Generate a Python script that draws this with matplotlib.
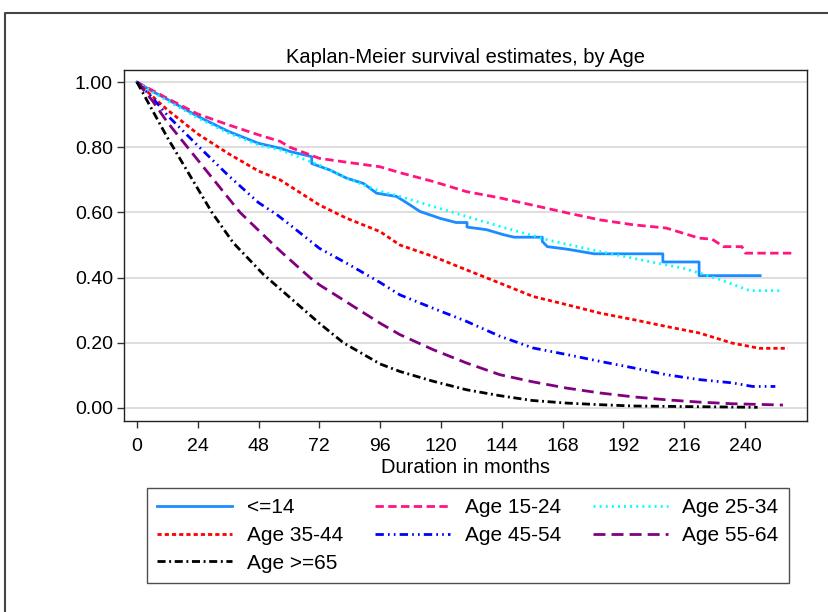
#! /usr/bin/env python

import matplotlib
matplotlib.use("Agg")
import matplotlib.pyplot as plt
from matplotlib.lines import Line2D

plt.rcParams['font.family'] = ['Liberation Sans', 'DejaVu Sans']

# Kaplan-Meier estimates, months -> survival
t_14 = [0, 6, 12, 24, 36, 48, 56.5, 60.4, 69, 69, 76.2, 82.8, 89.4, 94.6, 102.5,
        107.8, 111.7, 119.6, 126, 130.3, 130.3, 138, 145, 148.9, 160, 160, 162,
        170, 180.5, 207.6, 207.6, 221.9, 221.9, 246]
s_14 = [1.0, 0.972, 0.947, 0.895, 0.849, 0.812, 0.797, 0.787, 0.771, 0.75, 0.73,
        0.705, 0.689, 0.659, 0.649, 0.623, 0.603, 0.582, 0.569, 0.569, 0.555,
        0.547, 0.531, 0.524, 0.524, 0.511, 0.495, 0.487, 0.473, 0.473, 0.448,
        0.448, 0.406, 0.406]

t_15 = [0, 6, 12, 24, 36, 48, 56.5, 60.4, 72, 82.8, 96, 103.8, 116.9, 130, 143,
        156.4, 169.6, 182.8, 196, 209, 222, 227, 231.6, 238.8, 240.2, 258.3]
s_15 = [1.0, 0.975, 0.95, 0.902, 0.869, 0.838, 0.818, 0.80, 0.766, 0.754, 0.74,
        0.722, 0.695, 0.664, 0.645, 0.622, 0.599, 0.577, 0.562, 0.552, 0.521,
        0.518, 0.495, 0.495, 0.475, 0.475]

t_25 = [0, 6, 12, 24, 36, 48, 56.5, 72, 82.8, 96, 103.8, 123.5, 143.3, 163,
        182.8, 202.5, 215.6, 228.7, 241.9, 255]
s_25 = [1.0, 0.970, 0.943, 0.89, 0.844, 0.807, 0.792, 0.745, 0.705, 0.665, 0.649,
        0.603, 0.557, 0.514, 0.48, 0.449, 0.429, 0.398, 0.36, 0.36]

t_35 = [0, 6, 12, 24, 36, 48, 56.5, 72, 82.8, 96, 103.8, 116.9, 130, 143.3,
        156.4, 169.6, 182.8, 196, 209, 222, 235, 245.7, 257]
s_35 = [1.0, 0.957, 0.915, 0.841, 0.781, 0.727, 0.700, 0.623, 0.582, 0.541, 0.50,
        0.465, 0.424, 0.383, 0.342, 0.317, 0.291, 0.271, 0.25, 0.23, 0.199,
        0.183, 0.183]

t_45 = [0, 6, 12, 24, 36, 48, 55.1, 60.4, 72, 82.8, 96, 103.8, 116.9, 130, 143.3,
        156.4, 169.6, 182.8, 196, 209, 222, 235, 243, 252]
s_45 = [1.0, 0.953, 0.898, 0.805, 0.714, 0.630, 0.594, 0.562, 0.49, 0.444, 0.385,
        0.347, 0.306, 0.266, 0.22, 0.184, 0.164, 0.143, 0.123, 0.102, 0.087,
        0.077, 0.066, 0.066]

t_55 = [0, 6, 12, 24, 40.7, 48, 56.5, 68.3, 72, 96, 103.8, 116.9, 130.1, 143.3,
        156.4, 169.6, 182.8, 196, 209, 222, 235, 255]
s_55 = [1.0, 0.944, 0.877, 0.761, 0.60, 0.545, 0.482, 0.40, 0.378, 0.26, 0.225,
        0.179, 0.138, 0.102, 0.08, 0.061, 0.046, 0.034, 0.025, 0.018, 0.013,
        0.009]

t_65 = [0, 6, 12, 24, 29.6, 38, 49.9, 72, 81.5, 96, 103.8, 116.9, 130, 143, 156,
        169.6, 182.8, 196, 220, 245]
s_65 = [1.0, 0.915, 0.83, 0.673, 0.60, 0.507, 0.41, 0.26, 0.20, 0.135, 0.112,
        0.082, 0.056, 0.038, 0.023, 0.015, 0.010, 0.006, 0.004, 0.002]

groups = ['<=14', 'Age 15-24', 'Age 25-34', 'Age 35-44', 'Age 45-54',
          'Age 55-64', 'Age >=65']
times = [t_14, t_15, t_25, t_35, t_45, t_55, t_65]
surv = [s_14, s_15, s_25, s_35, s_45, s_55, s_65]
colors = ['#1a8cff', '#ff1480', '#00ffff', '#ff0000', '#0000ff', '#800080',
          '#000000']
styles = ['-', (0, (3, 1.6)), (0, (0.7, 1.5)), (0, (1.5, 1.1)),
          (0, (3, 1.5, 0.6, 1.5, 0.6, 1.5)), (0, (4.3, 2.2)),
          (0, (2.9, 1.3, 0.7, 1.3))]

xticks = list(range(0, 241, 24))
yticks = [0.0, 0.2, 0.4, 0.6, 0.8, 1.0]

fig = plt.figure(figsize=(8.29, 6.12), dpi=100)
ax = fig.add_axes([124 / 829, 1 - 421 / 612, 683 / 829, 351 / 612])

for y in yticks:
    ax.axhline(y, color='#dedede', lw=1.4, zorder=0)

lines = []
for t, s, c, ls, g in zip(times, surv, colors, styles, groups):
    ln, = ax.plot(t, s, color=c, ls=ls, lw=2, label=g, zorder=2)
    lines.append(ln)

ax.set_xlim(-5.1, 264.5)
ax.set_ylim(-0.04, 1.037)
ax.set_xticks(xticks)
ax.set_yticks(yticks)
ax.set_yticklabels(['%.2f' % y for y in yticks])
ax.tick_params(direction='out', length=5, width=1, colors='#333333',
               labelcolor='black', labelsize=14, pad=3)
ax.tick_params(axis='x', pad=7.5)
for sp in ax.spines.values():
    sp.set_color('#222222')
    sp.set_linewidth(1)

ax.set_title('Kaplan-Meier survival estimates, by Age', fontsize=14.5, pad=5)
ax.set_xlabel('Duration in months', fontsize=14.5, labelpad=2)

# legend is filled column-wise, so reorder to get the row layout
order = [0, 3, 6, 1, 4, 2, 5]
leg = fig.legend([lines[i] for i in order], [groups[i] for i in order],
                 loc='lower left', ncol=3, mode='expand',
                 bbox_to_anchor=(147 / 829, 29 / 612, 642 / 829, 100 / 612),
                 borderaxespad=0, fontsize=15, handlelength=3.6,
                 handletextpad=0.7, labelspacing=0.42, borderpad=0.5,
                 fancybox=False, frameon=True)
leg.get_frame().set_edgecolor('#222222')
leg.get_frame().set_linewidth(1)

# outer frame around the graph region
fig.add_artist(Line2D([5 / 829, 5 / 829, 1.0], [0.0, 1 - 13 / 612, 1 - 13 / 612],
                      transform=fig.transFigure, color='#444444', lw=1.5))

fig.savefig('out.png', dpi=100)
